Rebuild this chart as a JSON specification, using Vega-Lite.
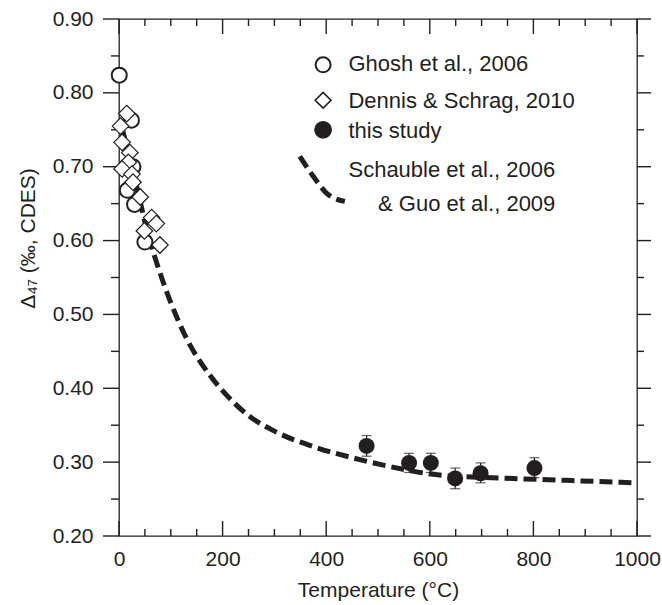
{
  "$schema": "https://vega.github.io/schema/vega-lite/v6.json",
  "autosize": "none",
  "width": 518,
  "height": 517,
  "padding": {"left": 119, "top": 19, "right": 25, "bottom": 69},
  "background": "white",
  "config": {
    "font": "Liberation Sans",
    "view": {"stroke": "#231f20", "strokeWidth": 1.3}
  },
  "datasets": {
    "xMajor": [{"T": 0}, {"T": 200}, {"T": 400}, {"T": 600}, {"T": 800}, {"T": 1000}],
    "xMinor": [{"T": 50}, {"T": 100}, {"T": 150}, {"T": 250}, {"T": 300}, {"T": 350}, {"T": 450}, {"T": 500}, {"T": 550}, {"T": 650}, {"T": 700}, {"T": 750}, {"T": 850}, {"T": 900}, {"T": 950}],
    "yMajor": [{"D47": 0.2}, {"D47": 0.3}, {"D47": 0.4}, {"D47": 0.5}, {"D47": 0.6}, {"D47": 0.7}, {"D47": 0.8}, {"D47": 0.9}],
    "yMinor": [{"D47": 0.25}, {"D47": 0.35}, {"D47": 0.45}, {"D47": 0.55}, {"D47": 0.65}, {"D47": 0.75}, {"D47": 0.85}],
    "curve": [
      {"T": 5, "D47": 0.755}, {"T": 15, "D47": 0.727}, {"T": 25, "D47": 0.699}, {"T": 37, "D47": 0.665},
      {"T": 50, "D47": 0.625}, {"T": 62, "D47": 0.594}, {"T": 75, "D47": 0.565}, {"T": 100, "D47": 0.516},
      {"T": 130, "D47": 0.468}, {"T": 175, "D47": 0.418}, {"T": 210, "D47": 0.389}, {"T": 250, "D47": 0.363},
      {"T": 300, "D47": 0.342}, {"T": 380, "D47": 0.32}, {"T": 450, "D47": 0.306}, {"T": 510, "D47": 0.296},
      {"T": 625, "D47": 0.282}, {"T": 720, "D47": 0.279}, {"T": 875, "D47": 0.275}, {"T": 1000, "D47": 0.272}
    ],
    "legendCurve": [
      {"T": 349, "D47": 0.714}, {"T": 375, "D47": 0.687}, {"T": 401, "D47": 0.664}, {"T": 436, "D47": 0.653}
    ],
    "ghosh": [
      {"T": 0.5, "D47": 0.824}, {"T": 24, "D47": 0.763}, {"T": 27, "D47": 0.7}, {"T": 16, "D47": 0.668},
      {"T": 30, "D47": 0.649}, {"T": 50, "D47": 0.598}
    ],
    "dennis": [
      {"T": 15, "D47": 0.772}, {"T": 3, "D47": 0.755}, {"T": 6, "D47": 0.733}, {"T": 21, "D47": 0.719},
      {"T": 18, "D47": 0.706}, {"T": 6, "D47": 0.697}, {"T": 25, "D47": 0.69}, {"T": 27, "D47": 0.679},
      {"T": 41, "D47": 0.659}, {"T": 63, "D47": 0.631}, {"T": 72, "D47": 0.623}, {"T": 49, "D47": 0.613},
      {"T": 79, "D47": 0.594}
    ],
    "study": [
      {"T": 478, "D47": 0.322, "lo": 0.308, "hi": 0.336},
      {"T": 560, "D47": 0.299, "lo": 0.286, "hi": 0.312},
      {"T": 602, "D47": 0.299, "lo": 0.286, "hi": 0.312},
      {"T": 649, "D47": 0.278, "lo": 0.264, "hi": 0.292},
      {"T": 698, "D47": 0.285, "lo": 0.272, "hi": 0.299},
      {"T": 802, "D47": 0.292, "lo": 0.279, "hi": 0.306}
    ],
    "legendMarks": [
      {"T": 394, "D47": 0.838, "series": "Ghosh"},
      {"T": 394, "D47": 0.79, "series": "Dennis"},
      {"T": 394, "D47": 0.75, "series": "study"}
    ],
    "legendText": [
      {"T": 443, "D47": 0.839, "label": "Ghosh et al., 2006"},
      {"T": 443, "D47": 0.789, "label": "Dennis & Schrag, 2010"},
      {"T": 443, "D47": 0.749, "label": "this study"},
      {"T": 443, "D47": 0.695, "label": "Schauble et al., 2006"},
      {"T": 500, "D47": 0.649, "label": "& Guo et al., 2009"}
    ]
  },
  "layer": [
    {
      "data": {"name": "curve"},
      "mark": {"type": "line", "color": "#231f20", "strokeWidth": 5, "strokeDash": [13, 6], "strokeCap": "butt", "interpolate": "monotone"},
      "encoding": {
        "x": {"field": "T", "type": "quantitative", "scale": {"domain": [0, 1000], "nice": false, "zero": false},
          "axis": {"orient": "bottom", "values": [0, 200, 400, 600, 800, 1000], "format": "d", "grid": false, "domain": false, "labelFlush": false, "ticks": false, "labelFont": "Liberation Sans", "labelColor": "#231f20", "labelFontSize": 21, "labelPadding": 12, "title": "Temperature (°C)", "titleFont": "Liberation Sans", "titleColor": "#231f20", "titleFontWeight": "normal", "titleFontSize": 21, "titlePadding": 10}},
        "y": {"field": "D47", "type": "quantitative", "scale": {"domain": [0.2, 0.9], "nice": false, "zero": false},
          "axis": {"orient": "left", "values": [0.2, 0.3, 0.4, 0.5, 0.6, 0.7, 0.8, 0.9], "format": ".2f", "grid": false, "domain": false, "ticks": false, "labelFont": "Liberation Sans", "labelColor": "#231f20", "labelFontSize": 21, "labelPadding": 26, "title": "Δ₄₇ (‰, CDES)", "titleFont": "Liberation Sans", "titleColor": "#231f20", "titleFontWeight": "normal", "titleFontSize": 21, "titleX": -91, "titleY": 219, "titleAlign": "center", "titleBaseline": "middle", "titleAngle": -90}}
      }
    },
    {
      "data": {"name": "xMajor"},
      "mark": {"type": "tick", "orient": "vertical", "color": "#231f20", "size": 15, "thickness": 1.4, "yOffset": -7.5, "opacity": 1},
      "encoding": {
        "x": {"field": "T", "type": "quantitative"},
        "y": {"datum": 0.2, "type": "quantitative"}
      }
    },
    {
      "data": {"name": "xMinor"},
      "mark": {"type": "tick", "orient": "vertical", "color": "#231f20", "size": 7, "thickness": 1.4, "yOffset": -3.5, "opacity": 1},
      "encoding": {
        "x": {"field": "T", "type": "quantitative"},
        "y": {"datum": 0.2, "type": "quantitative"}
      }
    },
    {
      "data": {"name": "xMajor"},
      "mark": {"type": "tick", "orient": "vertical", "color": "#231f20", "size": 15, "thickness": 1.4, "yOffset": 7.5, "opacity": 1},
      "encoding": {
        "x": {"field": "T", "type": "quantitative"},
        "y": {"datum": 0.9, "type": "quantitative"}
      }
    },
    {
      "data": {"name": "xMinor"},
      "mark": {"type": "tick", "orient": "vertical", "color": "#231f20", "size": 7, "thickness": 1.4, "yOffset": 3.5, "opacity": 1},
      "encoding": {
        "x": {"field": "T", "type": "quantitative"},
        "y": {"datum": 0.9, "type": "quantitative"}
      }
    },
    {
      "data": {"name": "yMajor"},
      "mark": {"type": "tick", "orient": "horizontal", "color": "#231f20", "size": 16, "thickness": 1.4, "xOffset": -8, "opacity": 1},
      "encoding": {
        "y": {"field": "D47", "type": "quantitative"},
        "x": {"datum": 0, "type": "quantitative"}
      }
    },
    {
      "data": {"name": "yMinor"},
      "mark": {"type": "tick", "orient": "horizontal", "color": "#231f20", "size": 8, "thickness": 1.4, "xOffset": -4, "opacity": 1},
      "encoding": {
        "y": {"field": "D47", "type": "quantitative"},
        "x": {"datum": 0, "type": "quantitative"}
      }
    },
    {
      "data": {"name": "yMajor"},
      "mark": {"type": "tick", "orient": "horizontal", "color": "#231f20", "size": 14, "thickness": 1.4, "xOffset": 7, "opacity": 1},
      "encoding": {
        "y": {"field": "D47", "type": "quantitative"},
        "x": {"datum": 1000, "type": "quantitative"}
      }
    },
    {
      "data": {"name": "yMinor"},
      "mark": {"type": "tick", "orient": "horizontal", "color": "#231f20", "size": 7, "thickness": 1.4, "xOffset": 3.5, "opacity": 1},
      "encoding": {
        "y": {"field": "D47", "type": "quantitative"},
        "x": {"datum": 1000, "type": "quantitative"}
      }
    },
    {
      "data": {"name": "study"},
      "mark": {"type": "rule", "color": "#231f20", "strokeWidth": 1.2},
      "encoding": {
        "x": {"field": "T", "type": "quantitative"},
        "y": {"field": "lo", "type": "quantitative"},
        "y2": {"field": "hi"}
      }
    },
    {
      "data": {"name": "study"},
      "mark": {"type": "tick", "orient": "horizontal", "color": "#231f20", "size": 10, "thickness": 1.2},
      "encoding": {
        "x": {"field": "T", "type": "quantitative"},
        "y": {"field": "hi", "type": "quantitative"}
      }
    },
    {
      "data": {"name": "study"},
      "mark": {"type": "tick", "orient": "horizontal", "color": "#231f20", "size": 10, "thickness": 1.2},
      "encoding": {
        "x": {"field": "T", "type": "quantitative"},
        "y": {"field": "lo", "type": "quantitative"}
      }
    },
    {
      "data": {"name": "study"},
      "mark": {"type": "point", "shape": "circle", "filled": true, "color": "#231f20", "size": 256, "opacity": 1},
      "encoding": {
        "x": {"field": "T", "type": "quantitative"},
        "y": {"field": "D47", "type": "quantitative"}
      }
    },
    {
      "data": {"name": "legendCurve"},
      "mark": {"type": "line", "color": "#231f20", "strokeWidth": 5, "strokeDash": [13, 6], "strokeCap": "butt", "interpolate": "monotone"},
      "encoding": {
        "x": {"field": "T", "type": "quantitative"},
        "y": {"field": "D47", "type": "quantitative"}
      }
    },
    {
      "data": {"name": "ghosh"},
      "mark": {"type": "point", "shape": "circle", "fill": "white", "fillOpacity": 1, "stroke": "#231f20", "strokeWidth": 2, "size": 225, "opacity": 1},
      "encoding": {
        "x": {"field": "T", "type": "quantitative"},
        "y": {"field": "D47", "type": "quantitative"}
      }
    },
    {
      "data": {"name": "dennis"},
      "mark": {"type": "point", "shape": "diamond", "fill": "white", "fillOpacity": 1, "stroke": "#231f20", "strokeWidth": 1.2, "size": 275, "opacity": 1},
      "encoding": {
        "x": {"field": "T", "type": "quantitative"},
        "y": {"field": "D47", "type": "quantitative"}
      }
    },
    {
      "data": {"name": "legendMarks"},
      "mark": {"type": "point", "stroke": "#231f20", "opacity": 1, "fillOpacity": 1},
      "encoding": {
        "x": {"field": "T", "type": "quantitative"},
        "y": {"field": "D47", "type": "quantitative"},
        "shape": {"field": "series", "type": "nominal", "scale": {"domain": ["Ghosh", "Dennis", "study"], "range": ["circle", "diamond", "circle"]}, "legend": null},
        "fill": {"field": "series", "type": "nominal", "scale": {"domain": ["Ghosh", "Dennis", "study"], "range": ["white", "white", "#231f20"]}, "legend": null},
        "size": {"field": "series", "type": "nominal", "scale": {"domain": ["Ghosh", "Dennis", "study"], "range": [225, 275, 256]}, "legend": null},
        "strokeWidth": {"field": "series", "type": "nominal", "scale": {"domain": ["Ghosh", "Dennis", "study"], "range": [2, 1.2, 1]}, "legend": null}
      }
    },
    {
      "data": {"name": "legendText"},
      "mark": {"type": "text", "align": "left", "baseline": "middle", "fontSize": 22, "font": "Liberation Sans", "color": "#231f20"},
      "encoding": {
        "x": {"field": "T", "type": "quantitative"},
        "y": {"field": "D47", "type": "quantitative"},
        "text": {"field": "label", "type": "nominal"}
      }
    }
  ]
}
